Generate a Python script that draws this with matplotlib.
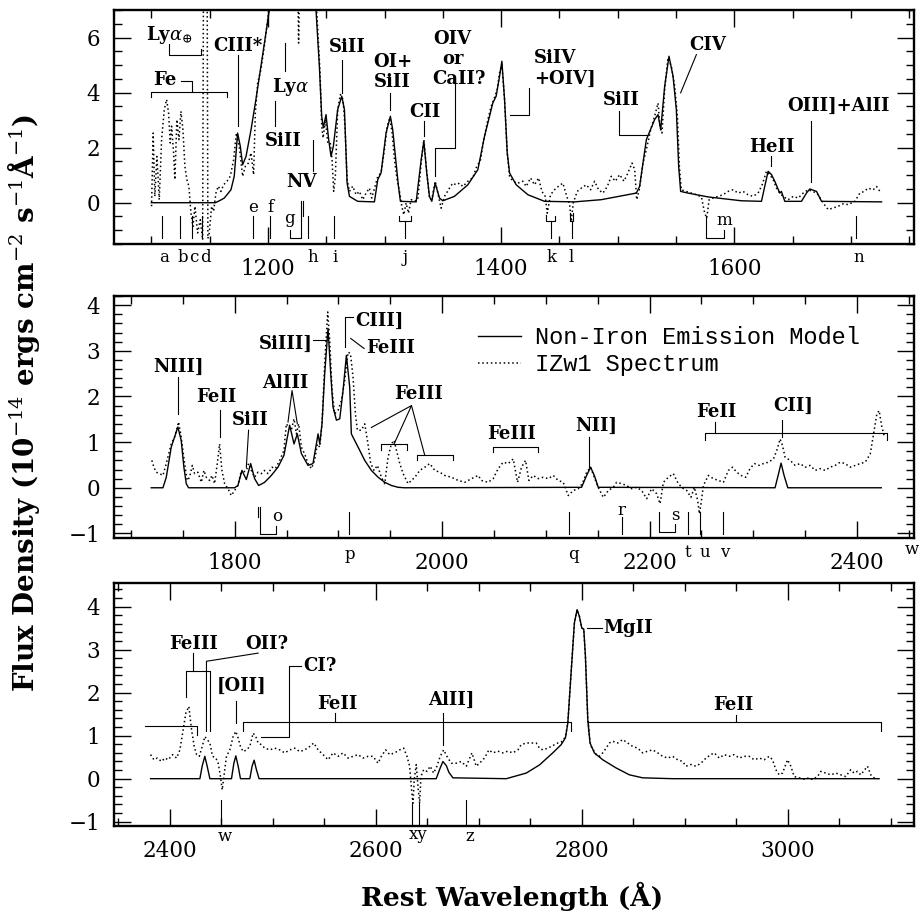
import numpy as np
import matplotlib.pyplot as plt
from matplotlib.ticker import MultipleLocator

plt.rcParams['font.family'] = 'DejaVu Serif'
plt.rcParams['mathtext.fontset'] = 'dejavuserif'

# ---- data: (rest wavelength [A], flux density) ----
top_model = [(1100, 0), (1155, 0), (1159.7, 0.1), (1162.6, 0.17), (1168.3, 0.47), (1171.1, 0.96),
             (1174, 2.53), (1176.3, 2.05), (1178.3, 1.38), (1181.2, 1.68), (1185.5, 2.65), (1189.7, 3.75),
             (1194, 4.96), (1198.3, 6.17), (1201.2, 7.02), (1208, 10), (1216, 15), (1230, 10),
             (1241.2, 7.02), (1244.1, 4.96), (1246.1, 3.14), (1247.5, 2.72), (1249.8, 3.2), (1252.1, 2.29),
             (1254.1, 1.68), (1256.1, 2.05), (1259.8, 3.38), (1263.3, 3.87), (1265.6, 3.38), (1267.9, 0.71),
             (1269.9, 0.23), (1277, 0.05), (1291.3, 0.03), (1294.2, 0.84), (1297, 1.08), (1301.3, 2.53),
             (1305, 3.14), (1307, 2.65), (1309.9, 1.44), (1311.9, 0.6), (1313.6, 0.05), (1327.1, 0.03),
             (1331.4, 1.56), (1333.7, 2.23), (1336.2, 1.08), (1338.5, 0.23), (1340.5, 0.05), (1343.4, 0.71),
             (1347.1, 0.17), (1350, 0.07), (1359.9, 0.23), (1371.4, 0.65), (1380, 1.2), (1385.7, 2.41),
             (1388.6, 2.9), (1392.8, 3.62), (1395.7, 3.87), (1398.6, 4.59), (1400.6, 5.14), (1402.9, 3.75),
             (1405.2, 1.81), (1407.2, 1.08), (1412.9, 0.65), (1422.9, 0.29), (1437.2, 0.05), (1463, 0.03),
             (1485.8, 0.11), (1515.9, 0.35), (1518.7, 0.59), (1524.5, 2.29), (1531.6, 3.02), (1534.5, 3.2),
             (1536.8, 2.65), (1540.2, 4.23), (1543.9, 5.32), (1547.4, 4.59), (1550.2, 3.38), (1552.2, 1.32),
             (1553.9, 0.41), (1560.2, 0.35), (1577.4, 0.21), (1606, 0.07), (1623.2, 0.05), (1626, 0.59),
             (1628.9, 1.14), (1631.8, 1.02), (1634.6, 0.78), (1638.9, 0.35), (1640.3, 0.41), (1643.2, 0.05),
             (1657.5, 0.05), (1661.8, 0.35), (1664.7, 0.5), (1670.4, 0.41), (1674.7, 0.05), (1726.2, 0.03)]

top_spec = [(1100.2, -0.13), (1101.6, 2.53), (1103, 0.23), (1104.8, 1.68), (1106.8, 0.11), (1108.8, 2.29),
            (1111.1, 3.38), (1113.1, 3.75), (1114.8, 3.26), (1116.2, 2.17), (1117.4, 2.78), (1119.1, 1.81),
            (1120.2, 0.84), (1121.9, 3.02), (1123.7, 2.29), (1125.4, 3.32), (1127.1, 2.65), (1128.8, 1.32),
            (1130.5, 0.84), (1132.2, 0.6), (1134, -0.38), (1135.7, -0.86), (1137.4, -0.13), (1139.7, -1.1),
            (1142, -0.62), (1144, -1.35), (1144.8, 9), (1147.8, 9), (1148.5, -1.3), (1149.7, -1.1),
            (1151.7, -0.13), (1153.4, -0.31), (1155.4, 0.35), (1157.4, 0.6), (1159.7, 0.41), (1162, 0.65),
            (1164.9, 0.78), (1167.7, 0.96), (1170.6, 1.56), (1172.9, 2.53), (1175.4, 2.05), (1178.3, 0.96),
            (1180.6, 1.32), (1183.2, 1.44), (1185.5, 1.81), (1187.7, 1.02), (1189.2, 3.26), (1191.2, 4.35),
            (1194, 4.84), (1196.9, 5.68), (1199.8, 6.65), (1201.2, 7.14), (1210, 10), (1225.5, 8.2),
            (1226.3, 5.8), (1227.2, 8.2), (1236, 10), (1241.8, 7.0), (1244.7, 4.7), (1246.1, 2.78),
            (1247.3, 2.35), (1249.3, 3.02), (1251.3, 2.17), (1253.5, 2.17), (1255, 1.56), (1256.4, 0.41),
            (1257.8, 0.96), (1259.8, 3.38), (1262.1, 3.93), (1264.4, 3.75), (1266.1, 2.78), (1267.9, 0.84),
            (1269.9, 0.41), (1272.7, 0.6), (1275.6, 0.29), (1278.4, 0.41), (1281.3, 0.11), (1284.2, 0.35),
            (1287, 0.53), (1289, 0.17), (1291.9, 0.6), (1294.2, 0.96), (1297, 1.08), (1299.9, 1.93),
            (1302.2, 2.78), (1304.5, 3.08), (1306.5, 2.53), (1308.5, 1.56), (1310.8, 0.84), (1312.8, 0.41),
            (1314.8, -0.13), (1316.5, -0.44), (1318.5, -0.01), (1320.5, -0.38), (1322.8, 0.11), (1325.6, 0.05),
            (1328.5, 0.11), (1331.4, 1.44), (1333.7, 2.29), (1336, 1.2), (1338.5, 0.17), (1340.5, 0.11),
            (1343.4, 0.78), (1345.7, 0.35), (1348.5, -0.2), (1351.4, 0.23), (1355.7, 0.53), (1358.5, 0.71),
            (1361.4, 0.65), (1364.2, 0.71), (1367.1, 0.59), (1370, 0.71), (1372.8, 0.84), (1375.7, 0.9),
            (1378.5, 1.26), (1382.3, 1.56), (1385.1, 2.29), (1388.6, 3.02), (1391.4, 3.5), (1393.7, 3.75),
            (1396.6, 4.11), (1398.6, 4.72), (1400.6, 5.02), (1402.9, 3.75), (1405.2, 1.81), (1407.2, 0.96),
            (1410, 0.78), (1414.3, 0.71), (1418.6, 0.78), (1421.5, 0.59), (1425.2, 0.9), (1428.6, 0.65),
            (1432.1, 0.9), (1434.9, 0.41), (1437.8, 0.23), (1439.5, -0.38), (1442.3, 0.29), (1445.8, 0.47),
            (1449.2, 0.6), (1452.9, 0.71), (1456.7, 0.17), (1458.7, -0.07), (1460.1, -0.68), (1461.8, -0.01),
            (1465.2, 0.41), (1468.7, 0.53), (1473, 0.65), (1476.7, 0.47), (1480.1, 0.78), (1483.5, 0.47),
            (1487.3, 0.35), (1491, 0.59), (1494.4, 0.96), (1497.9, 0.78), (1501.6, 1.02), (1505.3, 0.78),
            (1508.7, 1.08), (1512.2, 1.44), (1514.5, 1.2), (1516.2, 0.11), (1518.7, 0.53), (1521.6, 1.44),
            (1524.5, 1.93), (1528.2, 2.65), (1531.6, 3.14), (1534.5, 3.62), (1536.2, 2.78), (1537.9, 2.53),
            (1540.2, 4.11), (1543, 5.26), (1545.9, 4.96), (1548.8, 4.23), (1551.1, 3.14), (1552.8, 1.32),
            (1554.5, 0.47), (1558.8, 0.41), (1563.1, 0.35), (1567.4, 0.29), (1571.7, 0.21), (1574.5, -0.38),
            (1576.3, -0.56), (1578.3, 0.11), (1581.7, 0.17), (1586, 0.23), (1590.3, 0.29), (1594.6, 0.41),
            (1598.9, 0.47), (1603.2, 0.35), (1607.4, 0.41), (1611.7, 0.29), (1616, 0.23), (1620.3, 0.35),
            (1623.8, 0.65), (1627.5, 1.14), (1630.3, 1.02), (1633.2, 0.84), (1636.1, 0.53), (1638.9, 0.35),
            (1641.8, 0.23), (1646.1, 0.11), (1650.4, 0.23), (1654.7, 0.17), (1659, 0.35), (1663.2, 0.47),
            (1667.5, 0.41), (1671.8, 0.29), (1676.1, -0.01), (1680.4, -0.25), (1684.8, -0.19), (1689, -0.13),
            (1693.3, -0.04), (1697.6, -0.07), (1703.3, 0.05), (1707.6, 0.35), (1711.3, 0.41), (1714.7, 0.53),
            (1719, 0.47), (1721.9, 0.59), (1724.8, 0.41)]

mid_model = [(1719.4, 0), (1730.7, 0), (1733.9, 0.23), (1738.7, 0.89), (1741.9, 1.11), (1745.1, 1.33),
             (1748.3, 1.04), (1750.9, 0.45), (1753.2, 0.09), (1755.4, 0), (1799.8, 0), (1803, 0.05),
             (1806.9, 0.38), (1811.1, 0.18), (1815.3, 0.53), (1819.1, 0.2), (1823, 0.05), (1828.8, 0.12),
             (1835.2, 0.27), (1841.6, 0.45), (1847.4, 0.71), (1850.7, 1.11), (1852.9, 1.37), (1857.1, 0.96),
             (1860.3, 1.18), (1864.2, 0.75), (1870.6, 0.49), (1875.4, 0.53), (1880.3, 1.18), (1881.9, 0.96),
             (1884.1, 1.4), (1886.7, 2.5), (1889.9, 3.49), (1892.5, 2.5), (1894.7, 1.77), (1898, 1.48),
             (1901.2, 1.51), (1904.4, 2.13), (1907.6, 2.9), (1910.8, 2.21), (1912.4, 1.18), (1918.9, 0.89),
             (1925.3, 0.6), (1931.7, 0.38), (1938.2, 0.23), (1944.6, 0.12), (1951, 0.05), (1957.5, 0.01),
             (1963.9, 0), (2134.4, 0.01), (2139.3, 0.27), (2143.1, 0.45), (2146.7, 0.27), (2150.5, 0.01),
             (2321, 0), (2324.3, 0.3), (2326.8, 0.54), (2329.7, 0.27), (2333.3, 0), (2423.4, 0)]

mid_spec = [(1720, 0.6), (1722, 0.45), (1724.2, 0.34), (1727.4, 0.31), (1730.7, 0.27), (1733.9, 0.53),
            (1738.7, 0.96), (1741.9, 1.11), (1745.8, 1.44), (1748.3, 1.11), (1751.6, 0.53), (1754.1, 0.16),
            (1756.4, 0.23), (1759, 0.49), (1761.2, 0.31), (1764.4, 0.34), (1767.7, 0.12), (1770.2, 0.38),
            (1772.5, 0.23), (1775.7, 0.16), (1778, 0.27), (1780.5, 0.09), (1783.1, 0.53), (1785.3, 0.96),
            (1787.6, 0.38), (1790.2, 0.09), (1793.4, -0.02), (1796.6, -0.17), (1799.8, -0.06), (1803, 0.05),
            (1805.6, 0.31), (1807.9, 0.34), (1811.1, 0.38), (1813.3, 0.53), (1815.9, 0.38), (1819.1, 0.23),
            (1822.3, 0.34), (1825.6, 0.31), (1828.8, 0.38), (1832, 0.31), (1835.9, 0.45), (1839.1, 0.42),
            (1843.3, 0.6), (1847.4, 0.82), (1849.7, 1.4), (1851.9, 1.33), (1854.5, 1.26), (1857.1, 1.51),
            (1859.4, 1.18), (1861.6, 1.4), (1864.2, 0.89), (1867.4, 0.74), (1870.6, 0.53), (1873.8, 0.42),
            (1877, 0.6), (1879.6, 0.96), (1881.9, 0.89), (1884.1, 1.4), (1886.7, 2.72), (1889.6, 3.85),
            (1891.5, 3.23), (1893.8, 2.13), (1896.3, 1.62), (1899.6, 1.7), (1902.8, 1.91), (1906, 2.35),
            (1909.2, 2.97), (1911.5, 2.94), (1914, 2.43), (1916.3, 1.62), (1918.2, 1.26), (1922, 1.26),
            (1925.3, 1.4), (1927.9, 1.04), (1931.1, 0.53), (1934.3, 0.38), (1937.5, 0.49), (1941.4, 0.23),
            (1944.6, 0.09), (1947.8, 0.67), (1951, 0.96), (1953.6, 1.04), (1955.9, 0.82), (1959.1, 0.53),
            (1962.3, 0.31), (1967.1, 0.09), (1973.6, 0.23), (1978.4, 0.38), (1983.2, 0.45), (1988, 0.53),
            (1992.9, 0.38), (1997.7, 0.34), (2002.5, 0.27), (2008.9, 0.23), (2015.4, 0.16), (2021.8, 0.12),
            (2028.3, 0.2), (2034.7, 0.27), (2037.9, 0.16), (2044.3, 0.12), (2049.2, 0.2), (2054, 0.42),
            (2058.8, 0.56), (2063.6, 0.53), (2068.5, 0.63), (2072.7, 0.12), (2076.5, 0.45), (2080.4, 0.6),
            (2083.6, 0.16), (2087.8, 0.27), (2092.6, 0.2), (2097.4, 0.23), (2102.3, 0.2), (2107.1, 0.27),
            (2111.9, 0.16), (2116.7, 0.12), (2121.6, -0.17), (2126.4, -0.06), (2131.2, -0.02), (2135.1, 0.09),
            (2139.3, 0.34), (2143.1, 0.45), (2146.7, 0.23), (2150.5, 0.01), (2155.4, -0.21), (2160.2, -0.06),
            (2165, 0.01), (2168.2, 0.12), (2173.1, 0.09), (2177.9, 0.05), (2182.7, -0.02), (2187.5, 0.01),
            (2192.4, -0.06), (2197.2, -0.24), (2202, -0.02), (2206.8, -0.13), (2210.1, -0.35), (2213.3, 0.12),
            (2218.1, 0.23), (2222.9, 0.31), (2227.7, 0.09), (2232.6, -0.02), (2235.8, -0.06), (2239.9, -0.21),
            (2243.2, 0.01), (2246.4, -0.28), (2248, -0.57), (2249.6, -0.35), (2251.9, 0.05), (2256.7, 0.27),
            (2261.5, 0.2), (2266.4, 0.16), (2271.2, 0.12), (2276, 0.38), (2279.9, 0.45), (2284.1, 0.34),
            (2288.2, 0.27), (2292.7, 0.23), (2296.9, 0.42), (2301.1, 0.53), (2305.6, 0.49), (2309.8, 0.53),
            (2314.6, 0.56), (2319.4, 0.63), (2322.7, 0.82), (2325.9, 1.07), (2328.1, 0.93), (2330.7, 0.67),
            (2335.5, 0.6), (2340.4, 0.49), (2345.2, 0.53), (2350, 0.45), (2354.8, 0.49), (2359.7, 0.38),
            (2364.5, 0.42), (2369.3, 0.38), (2374.1, 0.45), (2379, 0.49), (2383.8, 0.56), (2388.6, 0.53),
            (2393.5, 0.45), (2398.3, 0.49), (2403.1, 0.53), (2407.9, 0.56), (2412.8, 0.74), (2416, 1.18),
            (2419.2, 1.62), (2421.4, 1.69), (2424, 1.33), (2426.6, 1.11)]

bot_model = [(2381.2, 0), (2429.1, 0), (2431.3, 0.29), (2433.9, 0.52), (2436.2, 0.29), (2438.8, 0),
             (2459.8, 0), (2462.1, 0.36), (2464, 0.53), (2466.3, 0.29), (2468.5, 0), (2477.6, 0),
             (2479.8, 0.29), (2481.8, 0.43), (2484, 0.21), (2486.6, 0), (2658.6, 0), (2662.5, 0.25),
             (2665.1, 0.4), (2668.5, 0.3), (2670.9, 0.15), (2674.8, 0.02), (2726.6, 0), (2746, 0.13),
             (2758.9, 0.32), (2771.8, 0.6), (2779.9, 0.79), (2784.1, 0.95), (2786.4, 1.29), (2789.6, 2.46),
             (2792.8, 3.62), (2795.4, 3.93), (2797.7, 3.77), (2800, 3.5), (2801.9, 3.48), (2803.5, 2.85),
             (2805.8, 1.37), (2808, 0.83), (2812.2, 0.6), (2820.3, 0.44), (2833.3, 0.25), (2846.2, 0.09),
             (2859.1, 0.02), (2888.2, 0), (3088.7, 0)]

bot_spec = [(2381.2, 0.56), (2384.5, 0.44), (2387.7, 0.48), (2391.9, 0.4), (2395.1, 0.48), (2398.4, 0.44),
            (2402.6, 0.56), (2406.5, 0.48), (2409.7, 0.67), (2412.9, 1.14), (2415.5, 1.53), (2418.4, 1.68),
            (2421, 1.14), (2423.6, 0.75), (2425.9, 0.56), (2428.5, 0.52), (2431.4, 0.75), (2433.9, 0.98),
            (2436.2, 0.91), (2438.8, 0.83), (2441.4, 0.52), (2444.6, 0.48), (2446.9, 0.36), (2449.1, 0.05),
            (2450.8, -0.26), (2452.4, 0.05), (2454.9, 0.52), (2458.2, 0.67), (2461.4, 0.98), (2464, 1.1),
            (2466.3, 0.94), (2468.5, 0.75), (2471.1, 0.63), (2474.4, 0.67), (2477.6, 0.75), (2480.8, 1.06),
            (2483.4, 0.98), (2485.7, 0.83), (2488.9, 0.79), (2492.1, 0.71), (2497, 0.67), (2501.8, 0.71),
            (2506.7, 0.67), (2511.5, 0.6), (2516.4, 0.67), (2521.2, 0.71), (2526.1, 0.63), (2530.9, 0.67),
            (2535.8, 0.75), (2539.7, 0.83), (2543.9, 0.67), (2548.7, 0.56), (2553.6, 0.44), (2558.4, 0.6),
            (2563.3, 0.52), (2568.1, 0.6), (2573, 0.48), (2577.8, 0.52), (2582.7, 0.56), (2587.5, 0.48),
            (2592.4, 0.52), (2597.2, 0.52), (2602.1, 0.36), (2605.3, 0.52), (2609.5, 0.67), (2613.4, 0.56),
            (2618.2, 0.6), (2623.1, 0.67), (2627, 0.71), (2630.2, 0.52), (2632.8, 0.29), (2634.7, -0.26),
            (2636, -0.57), (2637.3, -0.02), (2639.2, 0.33), (2641.2, -0.26), (2642.5, -0.57), (2643.8, 0.05),
            (2646.4, 0.21), (2649.6, 0.17), (2652.8, 0.29), (2656.1, 0.13), (2659.3, 0.29), (2662.5, 0.52),
            (2665.8, 0.67), (2669, 0.52), (2673.2, 0.36), (2678.1, 0.36), (2682.9, 0.4), (2687.8, 0.29),
            (2693.3, 0.6), (2697.5, 0.29), (2700.7, 0.36), (2705.5, 0.48), (2709.8, 0.67), (2713.6, 0.6),
            (2718.5, 0.64), (2723.3, 0.6), (2728.2, 0.64), (2733, 0.6), (2737.9, 0.67), (2741.1, 0.79),
            (2746, 0.83), (2750.8, 0.83), (2755.7, 0.83), (2758.9, 0.71), (2762.1, 0.67), (2767, 0.71),
            (2771.8, 0.77), (2776.7, 0.83), (2779.9, 0.85), (2784.1, 0.97), (2786.4, 1.3), (2789.6, 2.46),
            (2792.8, 3.62), (2795.4, 3.93), (2797.7, 3.77), (2800, 3.5), (2801.9, 3.48), (2803.5, 2.85),
            (2805.8, 1.4), (2808, 0.85), (2809, 0.75), (2813.9, 0.56), (2817.1, 0.52), (2820.3, 0.6),
            (2823.6, 0.71), (2826.8, 0.83), (2830, 0.87), (2834.9, 0.83), (2839.7, 0.91), (2844.6, 0.83),
            (2849.4, 0.75), (2854.3, 0.71), (2859.1, 0.6), (2864, 0.64), (2868.8, 0.67), (2873.7, 0.6),
            (2878.5, 0.52), (2883.4, 0.48), (2888.2, 0.52), (2893.1, 0.44), (2897.9, 0.4), (2901.1, 0.29),
            (2906, 0.33), (2910.8, 0.29), (2915.7, 0.36), (2920.6, 0.48), (2925.4, 0.56), (2928.6, 0.6),
            (2933.5, 0.48), (2938.3, 0.56), (2943.2, 0.52), (2948, 0.56), (2952.9, 0.48), (2957.7, 0.52),
            (2962.6, 0.52), (2967.4, 0.44), (2972.3, 0.48), (2977.1, 0.44), (2982, 0.52), (2985.2, 0.44),
            (2988.4, 0.21), (2991.7, 0.09), (2994.9, 0.13), (2999.8, 0.44), (3003, 0.29), (3006.2, 0.05),
            (3011.1, 0.02), (3015.9, -0.01), (3020.8, 0.02), (3024, -0.02), (3028.9, 0.05), (3032.1, 0.17),
            (3037, 0.13), (3041.8, 0.09), (3046.7, 0.13), (3051.5, 0.09), (3056.3, 0.05), (3061.2, 0.21),
            (3064.4, 0.13), (3067.6, 0.17), (3070.9, 0.09), (3077.4, 0.29), (3080.6, 0.09), (3083.8, 0.02),
            (3087.1, -0.01)]

# ---- line identifications: (text, wavelength, flux, alignment) ----
top_labels = [(r'Ly$\alpha_{\oplus}$', 1115, 6.1, 'center'), ('Fe', 1112, 4.44, 'center'),
              ('CIII*', 1174, 5.68, 'center'), (r'Ly$\alpha$', 1219, 4.19, 'center'),
              ('SiII', 1213, 2.23, 'center'), ('NV', 1229, 0.75, 'center'),
              ('SiII', 1267.8, 5.65, 'center'), ('OI+', 1307, 5.11, 'center'),
              ('SiII', 1307, 4.38, 'center'), ('CII', 1334.8, 3.29, 'center'),
              ('OIV', 1358, 5.96, 'center'), ('or', 1358.5, 5.23, 'center'),
              ('CaII?', 1364, 4.5, 'center'), ('SiIV', 1445.8, 5.26, 'center'),
              ('+OIV]', 1455, 4.51, 'center'), ('SiII', 1503, 3.73, 'center'),
              ('CIV', 1577.4, 5.72, 'center'), ('HeII', 1631.8, 2.02, 'center'),
              ('OIII]+AlII', 1689.5, 3.5, 'center')]
top_leaders = [([1115.3, 1115.3, 1142.5, 1142.5], [5.75, 5.38, 5.38, 5.6]),
               ([1125.3, 1134.5, 1134.5], [4.41, 4.41, 4.05]),
               ([1099.6, 1099.6, 1164.8, 1164.8], [3.84, 4.01, 4.01, 3.84]),
               ([1174, 1174], [5.38, 2.77]), ([1214.9, 1214.9], [5.81, 4.77]),
               ([1206, 1206], [3.68, 2.77]), ([1238.4, 1238.4], [2.29, 1.14]),
               ([1263.2, 1263.2], [5.2, 3.99]), ([1305, 1305], [3.99, 3.38]),
               ([1334.2, 1334.2], [2.96, 2.41]),
               ([1360, 1360, 1343.3, 1343.3], [4.35, 1.99, 1.99, 0.96]),
               ([1423.5, 1423.5, 1407.2], [4.17, 3.2, 3.2]),
               ([1501, 1501, 1525.3], [3.32, 2.47, 2.47]),
               ([1567.4, 1553.9], [5.38, 3.99]), ([1631, 1631], [1.68, 1.32]),
               ([1665.5, 1665.5], [2.96, 0.77]),
               # absorption markers
               ([1109, 1109], [-0.5, -1.28]), ([1124.7, 1124.7], [-0.5, -1.28]),
               ([1135, 1135], [-0.5, -1.28]), ([1143.5, 1143.5], [-0.5, -1.28]),
               ([1186.9, 1186.9], [-0.5, -1.28]), ([1202, 1202], [-0.5, -1.28]),
               ([1218.6, 1218.6, 1228.3, 1228.3], [-0.98, -1.28, -1.28, 0.05]),
               ([1230.4, 1230.4], [0.05, -0.5]),
               ([1234, 1234], [-0.5, -1.28]), ([1257, 1257], [-0.5, -1.28]),
               ([1312.8, 1312.8, 1322.8, 1322.8], [-0.5, -0.68, -0.68, -0.5]),
               ([1317.6, 1317.6], [-0.68, -1.28]),
               ([1438.6, 1438.6, 1445.8, 1445.8], [-0.44, -0.68, -0.68, -0.5]),
               ([1442.3, 1442.3], [-0.68, -1.28]),
               ([1458.9, 1458.9, 1461.9, 1461.9], [-0.38, -0.68, -0.68, -0.38]),
               ([1460.5, 1460.5], [-0.68, -1.28]),
               ([1575.4, 1575.4, 1591.2, 1591.2], [-0.5, -1.28, -1.28, -0.98]),
               ([1703.9, 1703.9], [-0.5, -1.28])]
top_letters = [('a', 1111, -2.15), ('b', 1126.8, -2.15), ('c', 1136.8, -2.15), ('d', 1146.8, -2.15),
               ('e', 1186.9, -0.32), ('f', 1202, -0.32), ('g', 1218.3, -0.73), ('h', 1238.4, -2.15),
               ('i', 1257.8, -2.15), ('j', 1317.6, -2.15), ('k', 1443, -2.15), ('l', 1460, -2.15),
               ('m', 1591.7, -0.8), ('n', 1706.2, -2.15)]

mid_labels = [('NIII]', 1745.8, 2.65, 'center'), ('FeII', 1782.1, 1.99, 'center'),
              ('SiII', 1815, 1.48, 'center'), ('AlIII', 1848.7, 2.3, 'center'),
              ('SiIII]', 1875.4, 3.16, 'right'), ('CIII]', 1915.7, 3.65, 'left'),
              ('FeIII', 1927, 3.07, 'left'), ('FeIII', 1977.4, 2.05, 'center'),
              ('FeIII', 2066.9, 1.17, 'center'), ('NII]', 2148.9, 1.35, 'center'),
              ('FeII', 2264.7, 1.66, 'center'), ('CII]', 2338.7, 1.79, 'center')]
mid_leaders = [([1745.1, 1745.1], [2.43, 1.62]), ([1785.3, 1785.3], [1.7, 1.11]),
               ([1813.3, 1811.1], [1.26, 0.45]),
               ([1851.3, 1855.2, 1860.3], [1.44, 2.13, 1.4]),
               ([1875.4, 1888.3], [3.23, 3.23]),
               ([1906.6, 1906.6, 1914], [3.08, 3.74, 3.74]),
               ([1911.8, 1924.7], [3.27, 3.05]),
               ([1931.7, 1970.4, 1953.6], [1.32, 1.8, 0.96]), ([1970.4, 1983.2], [1.8, 0.71]),
               ([1940.7, 1940.7, 1965.8, 1965.8], [0.83, 0.96, 0.96, 0.83]),
               ([1976.1, 1976.1, 2010.6, 2010.6], [0.6, 0.71, 0.71, 0.6]),
               ([2049.2, 2049.2, 2092.6, 2092.6], [0.78, 0.89, 0.89, 0.78]),
               ([2141.5, 2141.5], [1.11, 0.45]),
               ([2253.5, 2253.5, 2428.8, 2428.8], [1.04, 1.2, 1.2, 1.04]),
               ([2263, 2263], [1.2, 1.44]), ([2327.5, 2327.5], [1.48, 1.11]),
               # absorption markers
               ([1822.3, 1822.3], [-0.42, -0.64]),
               ([1824, 1824, 1840, 1840], [-0.42, -1.01, -1.01, -0.83]),
               ([1910.2, 1910.2], [-0.53, -1.01]), ([2122.5, 2122.5], [-0.53, -1.01]),
               ([2173, 2173], [-0.64, -1.01]),
               ([2209.1, 2209.1, 2224.5, 2224.5], [-0.53, -0.97, -0.97, -0.79]),
               ([2237.4, 2237.4], [-0.53, -1.01]), ([2248.7, 2248.7], [-0.53, -1.01]),
               ([2271.2, 2271.2], [-0.53, -1.01])]
mid_letters = [('o', 1841, -0.72), ('p', 1910.8, -1.55), ('q', 2126.4, -1.55), ('r', 2173, -0.6),
               ('s', 2224.5, -0.7), ('t', 2237.4, -1.52), ('u', 2253.5, -1.52), ('v', 2272.8, -1.52),
               ('w', 2453, -1.44)]

bot_labels = [('FeIII', 2422.6, 3.14, 'center'), ('OII?', 2493.8, 3.14, 'center'),
              ('[OII]', 2469.5, 2.15, 'center'), ('CI?', 2529.3, 2.63, 'left'),
              ('FeII', 2562.3, 1.74, 'center'), ('AlII]', 2673.5, 1.84, 'center'),
              ('FeII', 2947, 1.71, 'center'), ('MgII', 2821, 3.5, 'left')]
bot_leaders = [([2422, 2422], [2.92, 2.5]),
               ([2415.5, 2415.5, 2438.8, 2438.8], [1.91, 2.5, 2.5, 1.1]),
               ([2485.7, 2435.5, 2435.5], [2.92, 2.73, 1.1]),
               ([2464, 2464], [1.8, 1.3]),
               ([2527.7, 2515.7, 2515.7, 2488.9], [2.61, 2.61, 0.97, 0.97]),
               ([2470.5, 2470.5, 2789.6, 2789.6], [1.1, 1.31, 1.31, 1.1]),
               ([2560, 2560], [1.31, 1.53]),
               ([2805.8, 2805.8, 3090.3, 3090.3], [1.1, 1.31, 1.31, 1.1]),
               ([2949.6, 2949.6], [1.31, 1.49]),
               ([2665.1, 2665.1], [1.53, 0.79]),
               ([2805.1, 2820], [3.5, 3.5]),
               ([2375.7, 2425.9, 2425.9], [1.22, 1.22, 1.02]),
               # absorption markers
               ([2449.5, 2449.5], [-0.49, -1.1]), ([2635.4, 2635.4], [-0.57, -1.1]),
               ([2641.8, 2641.8], [-0.57, -1.1]), ([2687.8, 2687.8], [-0.49, -1.1])]
bot_letters = [('w', 2453.3, -1.46), ('xy', 2641, -1.4), ('z', 2691, -1.46)]

# ---- figure ----
fig = plt.figure(figsize=(9.19, 9.14), dpi=100)
W, H = 919, 914


def make_axes(top, bottom):
    return fig.add_axes([114 / W, 1 - bottom / H, 800 / W, (bottom - top) / H])


def style(ax, xlim, ylim, ymajor, yminor):
    ax.set_xlim(*xlim)
    ax.set_ylim(*ylim)
    ax.xaxis.set_major_locator(MultipleLocator(200))
    ax.xaxis.set_minor_locator(MultipleLocator(50))
    ax.yaxis.set_major_locator(MultipleLocator(ymajor))
    ax.yaxis.set_minor_locator(MultipleLocator(yminor))
    ax.tick_params(which='both', direction='in', top=True, right=True, width=1.0)
    ax.tick_params(which='major', length=12, pad=10, labelsize=15.5)
    ax.tick_params(which='minor', length=5.5)
    for sp in ax.spines.values():
        sp.set_linewidth(1.7)


def draw(ax, model, spec, labels, leaders, letters):
    mw, mf = np.array(model).T
    sw, sf = np.array(spec).T
    ax.plot(mw, mf, color='k', lw=1.0, label='Non-Iron Emission Model')
    ax.plot(sw, sf, color='k', lw=1.1, ls=(0, (1, 1.8)), label='IZw1 Spectrum')
    for xs, ys in leaders:
        ax.plot(xs, ys, color='k', lw=0.8, clip_on=False)
    for s, x, y, ha in labels:
        ax.text(x, y, s, ha=ha, va='center', fontsize=13, fontweight='bold')
    for s, x, y in letters:
        ax.text(x, y, s, ha='center', va='baseline', fontsize=12)


ax1 = make_axes(10, 244)
ax2 = make_axes(296, 538)
ax3 = make_axes(583, 826)

style(ax1, (1068, 1754), (-1.5, 7), 2, 0.5)
style(ax2, (1683.5, 2455), (-1.1, 4.2), 1, 0.2)
style(ax3, (2345.7, 3122.6), (-1.1, 4.55), 1, 0.2)

draw(ax1, top_model, top_spec, top_labels, top_leaders, top_letters)
draw(ax2, mid_model, mid_spec, mid_labels, mid_leaders, mid_letters)
draw(ax3, bot_model, bot_spec, bot_labels, bot_leaders, bot_letters)

ax2.legend(loc='upper left', bbox_to_anchor=(0.455, 0.875), frameon=False,
           handlelength=1.8, handletextpad=0.6, labelspacing=0.15,
           borderpad=0, borderaxespad=0, prop={'family': 'Liberation Mono', 'size': 17})

fig.text(512 / W, 0.019, 'Rest Wavelength (Å)', ha='center', va='center',
         fontsize=19, fontweight='bold')
fig.text(24 / W, 1 - 403 / H,
         r'Flux Density (10$^{-14}$ ergs cm$^{-2}$ s$^{-1}$Å$^{-1}$)',
         rotation=90, ha='center', va='center', fontsize=20, fontweight='bold')

fig.savefig('out.png', dpi=100)
